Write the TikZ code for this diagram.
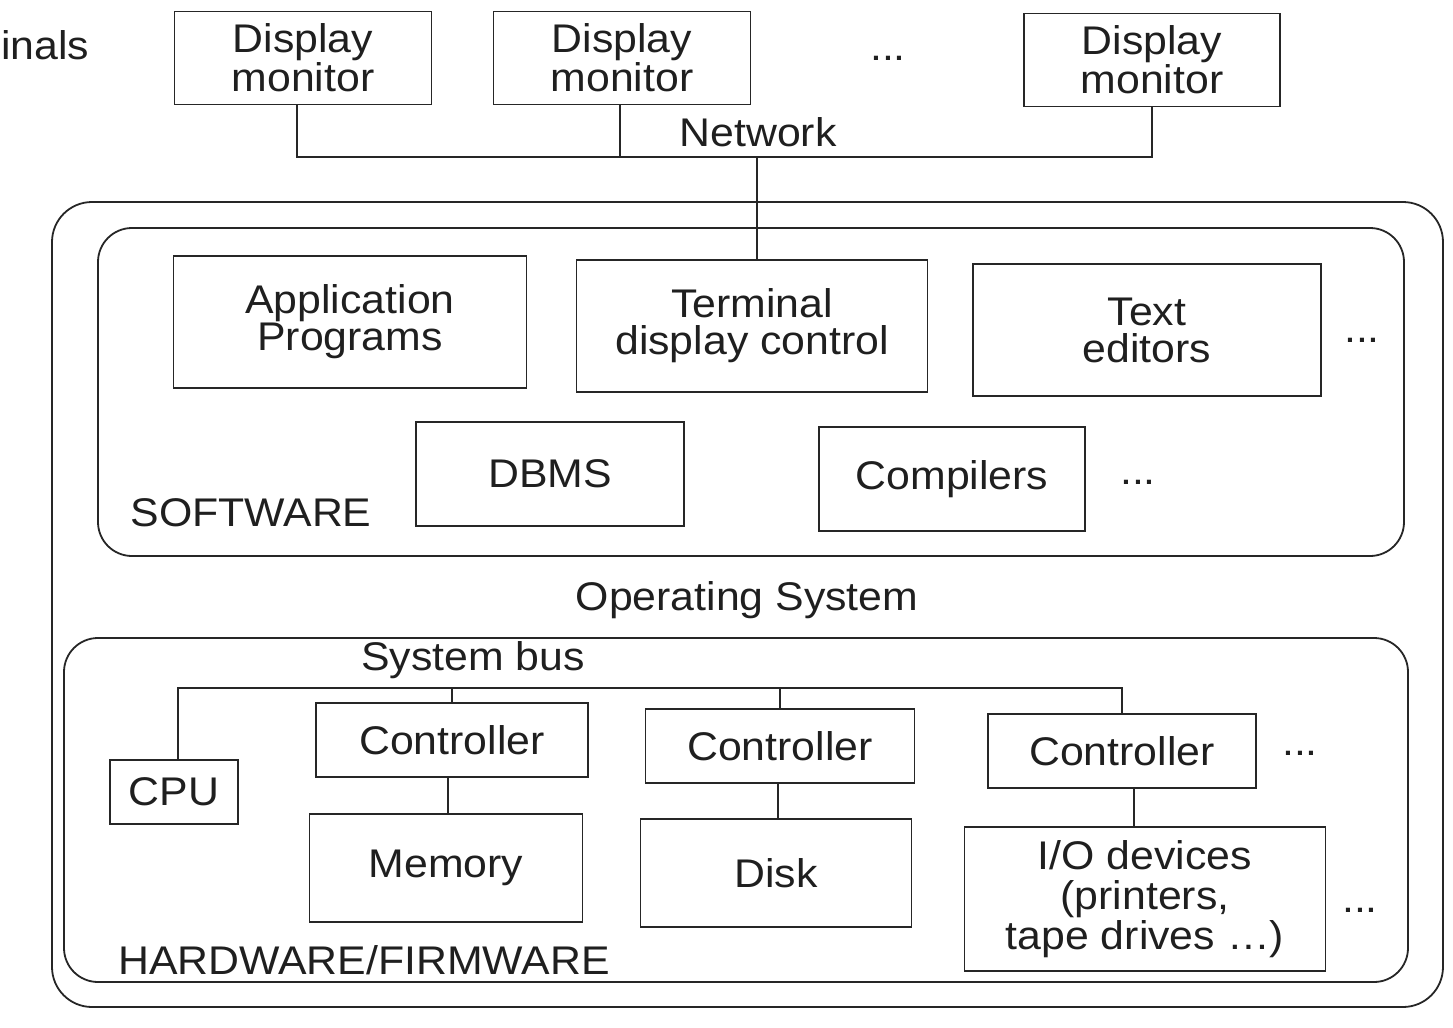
\documentclass[tikz,border=0pt]{standalone}
\usepackage{fontspec}
\setmainfont{Liberation Sans}[FakeStretch=1.07]
\begin{document}
\begin{tikzpicture}[x=0.5pt,y=-0.5pt,
  line width=0.9pt,
  every node/.style={font=\fontsize{20pt}{18.5pt}\selectfont, text=black!88, align=center},
  unit/.style={draw=black!85, inner sep=0pt},
  wire/.style={draw=black!85},
  frame/.style={draw=black!85, rounded corners=20pt},
  more/.style={inner sep=0pt}]
\useasboundingbox (0,0) rectangle (1453,1028);

% terminals on the network
\node[anchor=east, inner sep=0pt] (term) at (90,45) {inals};
\tikzset{monitor/.style={unit, minimum height=46.5pt, font=\fontsize{20pt}{17.5pt}\selectfont}}
\node[monitor, minimum width=128.5pt] (d1) at (303,58) {Display\\monitor};
\node[monitor, minimum width=128.5pt] (d2) at (622,58) {Display\\monitor};
\node[monitor, minimum width=128pt] (d3) at (1152,60) {Display\\monitor};
\node[more] (dmore) at (888,58) {...};
\node (net) at (758,132) {Network};
\coordinate (nj) at (757,157);

% operating system frame
\draw[frame] (52,202) rectangle (1443,1007);
\node (os) at (747,600) {Operating System};

% software layer
\draw[frame, rounded corners=17pt] (98,228) rectangle (1404,556);
\node (sw) at (251,513) {SOFTWARE};
\node[unit, minimum width=176.5pt, minimum height=66pt] (app) at (350,322) {Application\\Programs};
\node[unit, minimum width=175.5pt, minimum height=66pt] (tdc) at (752,326) {Terminal\\display control};
\node[unit, minimum width=174pt, minimum height=66pt] (ted) at (1147,330) {Text\\editors};
\node[more] (swmore1) at (1362,340) {...};
\node[unit, minimum width=134pt, minimum height=52pt] (dbms) at (550,474) {DBMS};
\node[unit, minimum width=133pt, minimum height=52pt] (comp) at (952,479) {Compilers};
\node[more] (swmore2) at (1138,482) {...};

% network wiring
\draw[wire] (d1.south -| 297,0) -- (297,157) -- (d3.south |- nj) -- (d3.south);
\draw[wire] (d2.south -| 620,0) -- (620,157);
\draw[wire] (nj) -- (nj |- tdc.north);

% hardware layer
\draw[frame, rounded corners=17pt] (64,638) rectangle (1408,982);
\node (hw) at (364,960) {HARDWARE/FIRMWARE};
\node (bus) at (473,660) {System bus};
\coordinate (bj) at (178,688);
\node[unit, minimum width=64pt, minimum height=32pt] (cpu) at (174,792) {CPU};
\node[unit, minimum width=136pt, minimum height=37pt] (c1) at (452,740) {Controller};
\node[unit, minimum width=134.5pt, minimum height=37pt] (c2) at (780,746) {Controller};
\node[unit, minimum width=134pt, minimum height=37pt] (c3) at (1122,751) {Controller};
\node[more] (hwmore1) at (1300,753) {...};
\node[unit, minimum width=136.5pt, minimum height=54pt] (mem) at (446,868) {Memory};
\node[unit, minimum width=135.5pt, minimum height=54pt] (disk) at (776,873) {Disk};
\node[unit, minimum width=180.5pt, minimum height=72pt, font=\fontsize{20pt}{20pt}\selectfont] (io) at (1145,899) {I/O devices\\(printers,\\tape drives \dots)};
\node[more] (hwmore2) at (1360,910) {...};

% system bus wiring
\draw[wire] (cpu.north -| bj) -- (bj) -- (c3.north |- bj) -- (c3.north);
\draw[wire] (c1.north) -- (c1.north |- bj);
\draw[wire] (c2.north) -- (c2.north |- bj);
\draw[wire] (c1.south -| 448,0) -- (mem.north -| 448,0);
\draw[wire] (c2.south -| 778,0) -- (disk.north -| 778,0);
\draw[wire] (c3.south -| 1134,0) -- (io.north -| 1134,0);
\end{tikzpicture}
\end{document}
